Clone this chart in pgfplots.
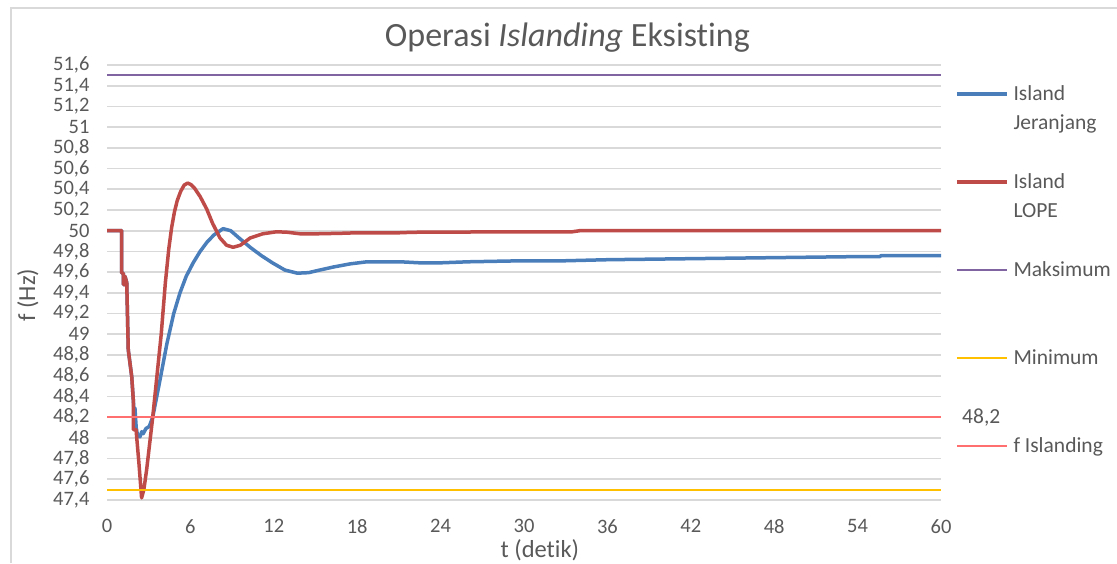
\documentclass[border=0pt]{standalone}
\usepackage{fontspec}
\setmainfont{Carlito}[Ligatures=NoCommon]
\usepackage{pgfplots}
\pgfplotsset{compat=1.18}
\definecolor{cblue}{HTML}{4A7EBB}
\definecolor{cred}{HTML}{BE4B48}
\definecolor{cpurple}{HTML}{8064A2}
\definecolor{cgold}{HTML}{FFC000}
\definecolor{cpink}{HTML}{FF6F6F}
\definecolor{gridgray}{HTML}{D9D9D9}
\definecolor{textgray}{HTML}{595959}
\begin{document}
\begin{tikzpicture}
\path[use as bounding box] (0,0) rectangle (1117pt,563pt);
\draw[color=gridgray, line width=1.5pt] (11pt,0pt) -- (11pt,555pt) -- (1117pt,555pt);
\begin{axis}[
  at={(107pt,63pt)}, anchor=south west,
  scale only axis, width=834pt, height=435pt,
  xmin=0, xmax=60, ymin=47.4, ymax=51.6,
  clip=false,
  xtick={0,6,12,18,24,30,36,42,48,54,60},
  ytick={47.4,47.6,47.8,48,48.2,48.4,48.6,48.8,49,49.2,49.4,49.6,49.8,50,50.2,50.4,50.6,50.8,51,51.2,51.4,51.6},
  ymajorgrids, grid style={color=gridgray, line width=1.6pt},
  axis line style={draw=none},
  major tick length=0pt,
  tick label style={font=\fontsize{20.5}{24}\selectfont, text=textgray},
  /pgf/number format/assume math mode=true,
  /pgf/number format/use comma,
  /pgf/number format/1000 sep={},
  yticklabel style={xshift=-14pt},
  xticklabel style={yshift=-16pt},
  title={Operasi \textit{Islanding} Eksisting},
  title style={at={(axis description cs:0.552,1)}, anchor=center, yshift=21pt, font=\fontsize{34}{40}\selectfont, text=textgray},
  xlabel={t (detik)},
  xlabel style={at={(axis description cs:0.519,-0.115)}, anchor=center, font=\fontsize{24.5}{28}\selectfont, text=textgray},
  ylabel={f (Hz)},
  ylabel style={at={(axis description cs:-0.095,0.471)}, anchor=center, font=\fontsize{24.5}{28}\selectfont, text=textgray},
  legend cell align=left,
  legend image code/.code={\draw[#1] (0pt,0pt) -- (50pt,0pt);},
  legend style={draw=none, fill=none, inner sep=0pt, outer sep=0pt,
    at={(axis description cs:1,1)}, anchor=north west, xshift=14pt, yshift=-17pt,
    row sep=64pt, font=\fontsize{21.5}{29}\selectfont, text=textgray,
    nodes={inner sep=0pt, text height=18pt, text depth=6pt},
    /tikz/every odd column/.append style={column sep=5pt}},
]
\addplot[cblue, line width=3.5pt, line join=round] coordinates {
(0,50) (1.06,50) (1.06,49.59) (1.18,49.59) (1.18,49.48) (1.29,49.48) (1.29,49.56) (1.42,49.5)
(1.53,48.85) (1.78,48.59) (1.89,48.37) (1.95,48.25) (2.01,48.29) (2.1,48.1) (2.2,48.02)
(2.37,48.01) (2.5,48.06) (2.61,48.04) (2.8,48.09) (3.04,48.11) (3.29,48.2) (3.8,48.55)
(4.31,48.91) (4.8,49.2) (5.25,49.4) (5.7,49.56) (6.2,49.69) (6.7,49.8) (7.2,49.89)
(7.7,49.96) (8.35,50.02) (8.9,50.0) (9.5,49.93) (10.3,49.84) (11.1,49.76) (11.9,49.69)
(12.8,49.62) (13.7,49.59) (14.5,49.595) (15.3,49.62) (16.3,49.65) (17.5,49.68) (18.7,49.70)
(21.1,49.70) (22.5,49.69) (24,49.69) (26,49.70) (30,49.71) (33,49.71) (36,49.72)
(42,49.73) (48,49.74) (54,49.75) (55.6,49.75) (55.7,49.76) (60,49.76)
};
\addlegendentry{\begin{tabular}[t]{@{}l@{}}Island\\Jeranjang\end{tabular}}
\addplot[cred, line width=3.5pt, line join=round] coordinates {
(0,50) (1.06,50) (1.06,49.59) (1.18,49.59) (1.18,49.48) (1.29,49.48) (1.29,49.56) (1.42,49.5)
(1.53,48.85) (1.78,48.59) (1.89,48.37) (1.89,48.08) (2.09,48.08) (2.3,47.75) (2.49,47.42)
(2.65,47.5) (2.85,47.69) (3.29,48.2) (3.9,49.0) (4.2,49.5) (4.45,49.83) (4.65,50.03)
(4.85,50.18) (5.05,50.29) (5.3,50.38) (5.55,50.44) (5.8,50.46) (6.05,50.445) (6.3,50.41)
(6.7,50.33) (7.17,50.21) (7.6,50.07) (8.13,49.93) (8.6,49.86) (9.07,49.84) (9.6,49.86)
(10.3,49.93) (11.2,49.97) (12.2,49.99) (13,49.985) (13.9,49.97) (15,49.97) (16.8,49.975)
(18,49.98) (21,49.98) (22,49.985) (30,49.99) (33.5,49.99) (34,50.0) (60,50.0)
};
\addlegendentry{\begin{tabular}[t]{@{}l@{}}Island\\LOPE\end{tabular}}
\addplot[cpurple, line width=2pt] coordinates {(0,51.5) (60,51.5)};
\addlegendentry{Maksimum}
\addplot[cgold, line width=2pt] coordinates {(0,47.5) (60,47.5)};
\addlegendentry{Minimum}
\addplot[cpink, line width=2pt] coordinates {(0,48.2) (60,48.2)};
\addlegendentry{f Islanding}
\node[anchor=west, inner sep=0pt, xshift=21pt, font=\fontsize{21.5}{26}\selectfont, text=textgray] at (axis cs:60,48.2) {48,2};
\end{axis}
\end{tikzpicture}
\end{document}
